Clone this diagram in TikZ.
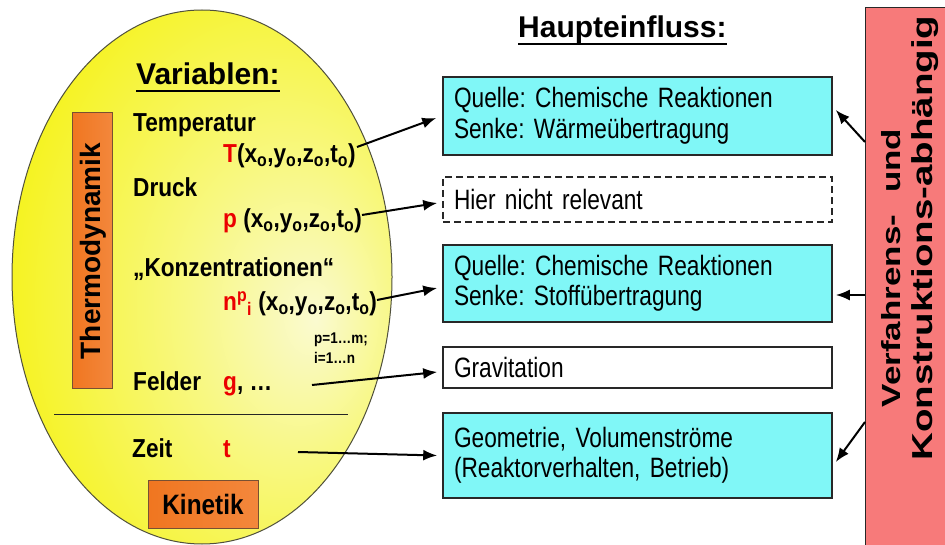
\documentclass[tikz,border=0pt]{standalone}
\usepackage{fontspec}
\usepackage{graphicx}
\setmainfont{Liberation Sans}
\newfontfamily\lbf[FakeStretch=0.87]{Liberation Sans}
\newfontfamily\bxf[FakeStretch=0.81]{Liberation Sans}
\newcommand{\tightsp}[1]{\fontdimen2\font=#1\fontdimen3\font=0pt\fontdimen4\font=0pt\frenchspacing}
\usetikzlibrary{arrows.meta,shapes.geometric}

\definecolor{egginner}{RGB}{250,250,208}
\definecolor{eggmid}{RGB}{248,248,130}
\definecolor{eggouter}{RGB}{245,242,20}
\definecolor{eggline}{RGB}{80,80,60}
\definecolor{cyanbox}{RGB}{128,247,247}
\definecolor{boxline}{RGB}{40,40,40}
\definecolor{redbox}{RGB}{247,122,122}
\definecolor{orangeA}{RGB}{240,118,32}
\definecolor{orangeB}{RGB}{243,135,60}
\definecolor{orline}{RGB}{120,80,50}
\definecolor{vred}{RGB}{235,0,0}

\pgfdeclareradialshading{eggshade}{\pgfpoint{15bp}{-4bp}}{color(0bp)=(egginner); color(14bp)=(eggmid); color(36bp)=(eggouter); color(70bp)=(eggouter)}

\tikzset{
  lab/.style={anchor=base west, inner sep=0pt, font=\lbf\fontsize{26}{26}\selectfont\bfseries\tightsp{6.3pt}},
  small/.style={anchor=base west, inner sep=0pt, font=\lbf\fontsize{15.5}{15.5}\selectfont\bfseries},
  head/.style={anchor=base west, inner sep=0pt, font=\fontsize{30}{30}\selectfont\bfseries},
  obox/.style={draw=orline, line width=1pt, left color=orangeA, right color=orangeB, inner sep=0pt},
  cbox/.style={draw=boxline, line width=1.6pt, text width=367pt, inner xsep=11pt, inner ysep=0pt,
     align=left, font=\bxf\fontsize{28}{30.5}\selectfont\tightsp{6.3pt}},
  arr/.style={-{Latex[length=14pt,width=11pt]}, line width=2pt, black},
}

\begin{document}
\begin{tikzpicture}[x=1pt,y=-1pt]
\useasboundingbox (0,0) rectangle (945,545);
\fill[white] (0,0) rectangle (945,545);

% ellipse
\node[ellipse, minimum width=380pt, minimum height=534pt, inner sep=0pt, draw=eggline, line width=1pt,
      shade, shading=eggshade] (egg) at (202,277) {};

% left texts
\node[head] (var) at (136,85) {Variablen:};
\draw[line width=2.5pt] ([yshift=-6pt]var.base west) -- ([yshift=-6pt]var.base east);

\node[obox, shading angle=90, minimum width=40pt, minimum height=275pt] (thermo) at (92,250.5) {};
\node[rotate=90, inner sep=0pt, font=\fontsize{28}{28}\selectfont\bfseries] (thermotxt) at (93,251) {Thermodynamik};

\node[lab] (temp) at (133,132) {Temperatur};
\node[lab] (fT) at (223,163) {{\color{vred}T}(x\textsubscript{o},y\textsubscript{o},z\textsubscript{o},t\textsubscript{o})};
\node[lab] (druck) at (133,197) {Druck};
\node[lab] (fp) at (223,228) {{\color{vred}p} (x\textsubscript{o},y\textsubscript{o},z\textsubscript{o},t\textsubscript{o})};
\node[lab] (konz) at (133,277) {„Konzentrationen“};
\node[lab] (fn) at (223,311) {{\color{vred}n\textsuperscript{p}\textsubscript{i}} (x\textsubscript{o},y\textsubscript{o},z\textsubscript{o},t\textsubscript{o})};
\node[small] (pm) at (314,343) {p=1…m;};
\node[small] (im) at (314,363) {i=1…n};
\node[lab] (felder) at (133,390) {Felder};
\node[lab] (g) at (223,390) {{\color{vred}g}, …};

\draw[line width=1pt, black!85] (54,414) -- (348,414);

\node[lab] (zeit) at (132,457) {Zeit};
\node[lab] (t) at (223,457) {{\color{vred}t}};

\node[obox, minimum width=110pt, minimum height=48pt,
      font=\lbf\fontsize{28}{28}\selectfont\bfseries] (kin) at (203,504) {Kinetik};

% right side
\node[head] (haupt) at (518,38) {Haupteinfluss:};
\draw[line width=2.5pt] ([yshift=-6pt]haupt.base west) -- ([yshift=-6pt]haupt.base east);

\node[cbox, fill=cyanbox, minimum height=78pt] (b1) at (637.5,116) {Quelle: Chemische Reaktionen\\Senke: Wärmeübertragung};
\node[cbox, dashed, dash pattern=on 7pt off 4pt, fill=white, minimum height=45pt] (b2) at (637.5,199.5) {Hier nicht relevant};
\node[cbox, fill=cyanbox, minimum height=77pt] (b3) at (637.5,283.5) {Quelle: Chemische Reaktionen\\Senke: Stoffübertragung};
\node[cbox, fill=white, minimum height=41pt] (b4) at (637.5,367.5) {Gravitation};
\node[cbox, fill=cyanbox, minimum height=85pt] (b5) at (637.5,455.5) {Geometrie, Volumenströme\\(Reaktorverhalten, Betrieb)};

% red box
\node[draw=boxline, line width=1pt, fill=redbox, minimum width=85pt, minimum height=545pt, inner sep=0pt] (rb) at (908,280) {};
\node[rotate=90, inner sep=0pt, font=\fontsize{35}{35}\selectfont\bfseries] (rt1) at (891,268)
   {\scalebox{1}[0.75]{Verfahrens-\hspace{22pt}und}};
\node[rotate=90, inner sep=0pt, font=\fontsize{38.5}{38.5}\selectfont\bfseries] (rt2) at (925,238)
   {\scalebox{1}[0.75]{Konstruktions-abhängig}};

% connectors left
\coordinate (sT) at (357,147);
\coordinate (sp) at (362,215);
\coordinate (sn) at (377,300);
\coordinate (sF) at (312,385);
\coordinate (sZ) at (298,452);
\draw[arr] (sT) -- ([xshift=-6pt,yshift=-2pt]b1.west);
\draw[arr] (sp) -- ([xshift=-5pt,yshift=-3.5pt]b2.west);
\draw[arr] (sn) -- ([xshift=-5pt,yshift=-4.5pt]b3.west);
\draw[arr] (sF) -- ([xshift=-5pt,yshift=-4.5pt]b4.west);
\draw[arr] (sZ) -- ([xshift=-5pt]b5.west);

% connectors right
\draw[arr] ([yshift=138pt]rb.west) -- ([xshift=3pt,yshift=6pt]b1.east);
\draw[arr] ([yshift=-15pt]rb.west) -- ([xshift=3pt,yshift=-11.5pt]b3.east);
\draw[arr] ([yshift=-142pt]rb.west) -- ([xshift=3pt,yshift=-6.5pt]b5.east);
\end{tikzpicture}
\end{document}
